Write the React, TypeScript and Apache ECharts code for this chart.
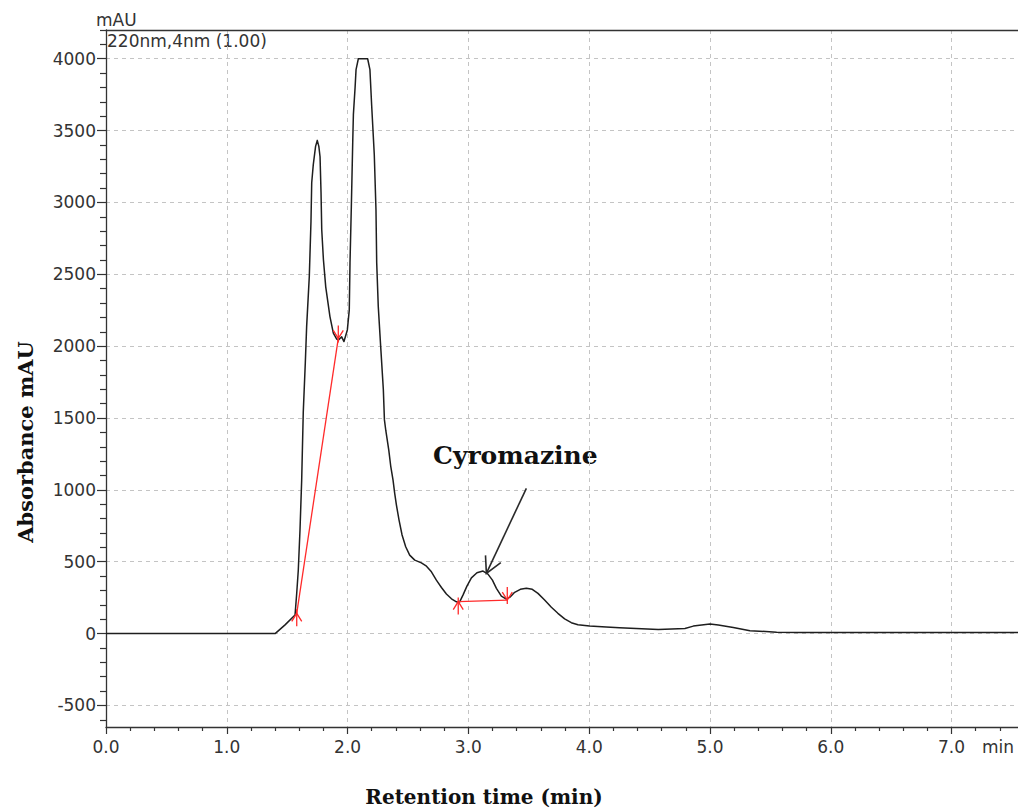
import React, { useEffect, useRef } from "react";
import * as echarts from "echarts";

// Retention time (min) and absorbance (mAU) of the chromatogram trace
const times = [0, 1.4, 1.48, 1.565, 1.579, 1.592, 1.606, 1.62, 1.633, 1.65, 1.661, 1.683, 1.697, 1.703, 1.716, 1.735, 1.749, 1.762, 1.772, 1.78, 1.786, 1.8, 1.819, 1.854, 1.882, 1.91, 1.923, 1.951, 1.97, 1.998, 2.014, 2.02, 2.031, 2.043, 2.048, 2.062, 2.07, 2.089, 2.166, 2.185, 2.199, 2.221, 2.235, 2.241, 2.254, 2.274, 2.296, 2.305, 2.316, 2.341, 2.357, 2.376, 2.39, 2.404, 2.426, 2.451, 2.481, 2.514, 2.556, 2.611, 2.653, 2.694, 2.735, 2.777, 2.818, 2.86, 2.901, 2.915, 2.928, 2.955, 2.988, 3.025, 3.071, 3.121, 3.162, 3.199, 3.232, 3.273, 3.314, 3.348, 3.383, 3.43, 3.48, 3.529, 3.576, 3.631, 3.687, 3.741, 3.797, 3.852, 3.907, 4.003, 4.141, 4.251, 4.572, 4.793, 4.862, 5.0, 5.069, 5.193, 5.331, 5.552, 5.745, 7.55];
const absorbance = [0, 0, 59, 129, 282, 442, 721, 1069, 1539, 1884, 2136, 2485, 2870, 3137, 3263, 3390, 3432, 3390, 3318, 3074, 2810, 2601, 2413, 2206, 2091, 2049, 2042, 2065, 2032, 2113, 2253, 2580, 2970, 3437, 3611, 3799, 3924, 4000, 4000, 3924, 3680, 3332, 2949, 2580, 2276, 1997, 1697, 1487, 1415, 1277, 1166, 1069, 976, 895, 790, 686, 604, 546, 511, 492, 469, 430, 372, 321, 275, 242, 221, 218, 221, 268, 330, 388, 423, 435, 414, 372, 315, 261, 240, 256, 287, 308, 315, 308, 280, 234, 183, 141, 102, 76, 62, 52, 45, 40, 29, 36, 52, 66, 59, 43, 20, 10, 8, 8];

// Integration baseline markers: [time, mAU, direction (1 = arrow up, -1 = arrow down)]
const baselineMarkers = [
  [1.579, 141, 1],
  [1.923, 2054, -1],
  [2.916, 223, 1],
  [3.322, 233, -1],
];
const baseline1 = [[1.579, 141], [1.923, 2054]];
const baseline2 = [[2.916, 223], [3.322, 233]];

// Annotation arrow: [fromTime, fromMAU, toTime, toMAU]
const annotationArrow = [[3.48, 1011, 3.149, 419]];
const annotationLabel = "Cyromazine";

// Axis ticks
const yMajorTicks = [-500, 0, 500, 1000, 1500, 2000, 2500, 3000, 3500, 4000];
const yMinorTicks = [-600, -400, -300, -200, -100, 100, 200, 300, 400, 600, 700, 800, 900, 1100, 1200, 1300, 1400, 1600, 1700, 1800, 1900, 2100, 2200, 2300, 2400, 2600, 2700, 2800, 2900, 3100, 3200, 3300, 3400, 3600, 3700, 3800, 3900, 4100, 4200];
const xMajorTicks = [0, 1, 2, 3, 4, 5, 6, 7];
const xMinorTicks = [0.2, 0.4, 0.6, 0.8, 1.2, 1.4, 1.6, 1.8, 2.2, 2.4, 2.6, 2.8, 3.2, 3.4, 3.6, 3.8, 4.2, 4.4, 4.6, 4.8, 5.2, 5.4, 5.6, 5.8, 6.2, 6.4, 6.6, 6.8, 7.2, 7.4];

const Y_MIN = -650;
const Y_MAX = 4200;
const X_MIN = 0;
const X_MAX = 7.55;

const AXIS_COLOR = "#333";
const RED = "#ff2a2a";
const SANS = "DejaVu Sans";
const SERIF = "DejaVu Serif";

export default function App() {
  const ref = useRef<HTMLDivElement>(null);

  useEffect(() => {
    if (!ref.current) return;
    const chart = echarts.init(ref.current, null, { renderer: "svg" });

    const lineData = times.map((t, i) => [t, absorbance[i]]);

    const labelStyle = { fontFamily: SANS, fontSize: 17, color: AXIS_COLOR };
    const splitLine = { show: true, lineStyle: { color: "#c4c4c4", type: [4, 4], width: 1 } };

    const option: any = {
      animation: false,
      backgroundColor: "#fff",
      grid: { left: 106, right: 0, top: 30, bottom: 84, containLabel: false },
      xAxis: [
        {
          type: "value",
          min: X_MIN,
          max: X_MAX,
          position: "bottom",
          axisLine: { show: true, onZero: false, lineStyle: { color: AXIS_COLOR, width: 1.3 } },
          axisTick: { show: true, customValues: xMajorTicks, length: 7, lineStyle: { color: AXIS_COLOR, width: 1.2 } },
          axisLabel: { show: true, customValues: xMajorTicks, margin: 11, formatter: (v: number) => v.toFixed(1), ...labelStyle },
          splitLine,
        },
        {
          type: "value",
          min: X_MIN,
          max: X_MAX,
          position: "bottom",
          axisLine: { show: false, onZero: false },
          axisTick: { show: true, customValues: xMinorTicks, length: 4, lineStyle: { color: AXIS_COLOR, width: 1.2 } },
          axisLabel: { show: false },
          splitLine: { show: false },
        },
        {
          type: "value",
          min: X_MIN,
          max: X_MAX,
          position: "top",
          axisLine: { show: true, onZero: false, lineStyle: { color: AXIS_COLOR, width: 1.3 } },
          axisTick: { show: false },
          axisLabel: { show: false },
          splitLine: { show: false },
        },
      ],
      yAxis: [
        {
          type: "value",
          min: Y_MIN,
          max: Y_MAX,
          position: "left",
          axisLine: { show: true, onZero: false, lineStyle: { color: AXIS_COLOR, width: 1.3 } },
          axisTick: { show: true, customValues: yMajorTicks, length: 9, lineStyle: { color: AXIS_COLOR, width: 1.2 } },
          axisLabel: { show: true, customValues: yMajorTicks, margin: 10, formatter: (v: number) => String(v), ...labelStyle },
          splitLine,
        },
        {
          type: "value",
          min: Y_MIN,
          max: Y_MAX,
          position: "left",
          axisLine: { show: false, onZero: false },
          axisTick: { show: true, customValues: yMinorTicks, length: 6, lineStyle: { color: AXIS_COLOR, width: 1.2 } },
          axisLabel: { show: false },
          splitLine: { show: false },
        },
      ],
      series: [
        {
          name: "220nm,4nm (1.00)",
          type: "line",
          data: lineData,
          xAxisIndex: 0,
          yAxisIndex: 0,
          symbol: "none",
          silent: true,
          lineStyle: { color: "#1e1e1e", width: 1.5, join: "round" },
          z: 3,
        },
        {
          type: "line",
          data: baseline1,
          symbol: "none",
          silent: true,
          lineStyle: { color: RED, width: 1.3 },
          z: 4,
        },
        {
          type: "line",
          data: baseline2,
          symbol: "none",
          silent: true,
          lineStyle: { color: RED, width: 1.3 },
          z: 4,
        },
        {
          type: "custom",
          data: baselineMarkers,
          dimensions: ["t", "v", "dir"],
          encode: { x: 0, y: 1 },
          silent: true,
          z: 5,
          renderItem: (params: any, api: any) => {
            const p = api.coord([api.value(0), api.value(1)]);
            const s = api.value(2);
            const st = { stroke: RED, lineWidth: 1.3, fill: "none" };
            return {
              type: "group",
              children: [
                { type: "line", shape: { x1: p[0], y1: p[1] - 4 * s, x2: p[0], y2: p[1] + 13 * s }, style: st },
                {
                  type: "polyline",
                  shape: { points: [[p[0] - 5, p[1] + 8 * s], [p[0], p[1]], [p[0] + 5, p[1] + 8 * s]] },
                  style: st,
                },
              ],
            };
          },
        },
        {
          type: "custom",
          data: annotationArrow,
          dimensions: ["t0", "v0", "t1", "v1"],
          encode: { x: [0, 2], y: [1, 3] },
          silent: true,
          z: 6,
          renderItem: (params: any, api: any) => {
            const a = api.coord([api.value(0), api.value(1)]);
            const b = api.coord([api.value(2), api.value(3)]);
            const ang = Math.atan2(a[1] - b[1], a[0] - b[0]);
            const L = 18;
            const d = (28 * Math.PI) / 180;
            const p1 = [b[0] + L * Math.cos(ang - d), b[1] + L * Math.sin(ang - d)];
            const p2 = [b[0] + L * Math.cos(ang + d), b[1] + L * Math.sin(ang + d)];
            const st = { stroke: "#2a2a2a", lineWidth: 1.6, fill: "none" };
            return {
              type: "group",
              children: [
                { type: "line", shape: { x1: a[0], y1: a[1], x2: b[0], y2: b[1] }, style: st },
                { type: "polyline", shape: { points: [p1, b, p2] }, style: st },
              ],
            };
          },
        },
      ],
      graphic: [
        {
          type: "text",
          left: 96,
          top: 11,
          style: { text: "mAU", fontFamily: SANS, fontSize: 17, fill: AXIS_COLOR },
        },
        {
          type: "text",
          left: 107,
          top: 32,
          style: { text: "220nm,4nm (1.00)", fontFamily: SANS, fontSize: 17, fill: AXIS_COLOR },
        },
        {
          type: "text",
          left: 982,
          top: 738,
          style: { text: "min", fontFamily: SANS, fontSize: 17, fill: AXIS_COLOR },
        },
        {
          type: "text",
          left: 433,
          top: 443,
          style: { text: annotationLabel, fontFamily: SERIF, fontSize: 25, fontWeight: "bold", fill: "#111" },
        },
        {
          type: "text",
          x: 25,
          y: 442,
          rotation: Math.PI / 2,
          style: {
            text: "Absorbance mAU",
            fontFamily: SERIF,
            fontSize: 21,
            fontWeight: "bold",
            fill: "#111",
            textAlign: "center",
            textVerticalAlign: "middle",
          },
        },
        {
          type: "text",
          x: 484,
          y: 797,
          style: {
            text: "Retention time (min)",
            fontFamily: SERIF,
            fontSize: 20,
            fontWeight: "bold",
            fill: "#111",
            textAlign: "center",
            textVerticalAlign: "middle",
          },
        },
      ],
    };

    chart.setOption(option);
    return () => chart.dispose();
  }, []);

  return (
    <div
      ref={ref}
      style={{ position: "absolute", left: 0, top: 0, width: 1018, height: 811, background: "#fff" }}
    />
  );
}
